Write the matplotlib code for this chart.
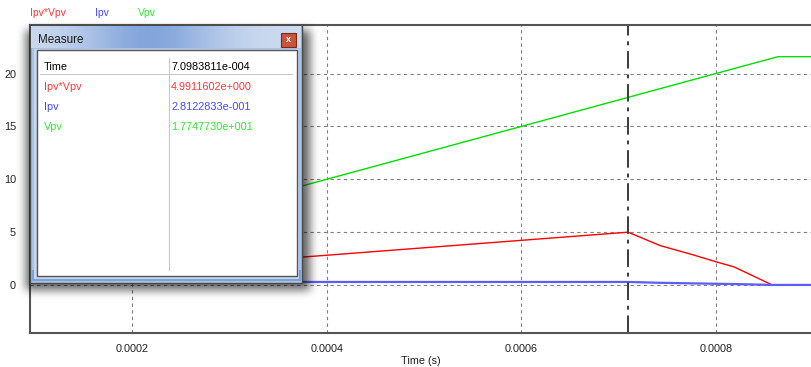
import numpy as np
import matplotlib.pyplot as plt
from matplotlib.patches import Rectangle

plt.rcParams['font.family'] = ['Liberation Sans', 'DejaVu Sans']

# probe samples: time (s), panel current (A), panel voltage (V), power (W)
time_s = [0.00009, 0.0002, 0.0004, 0.0006, 7.0983811e-4, 0.000743, 0.000777,
          0.0008, 0.000819, 0.000858, 0.000864, 0.0009]
ipv = [0.2812, 0.2812, 0.2812, 0.2812, 0.28122833, 0.2, 0.146,
       0.11, 0.084, 0.0, 0.0, 0.0]
vpv = [2.25, 5.0, 10.0, 15.0, 17.74773, 18.58, 19.43,
       20.0, 20.48, 21.45, 21.6, 21.6]
pwr = [0.63, 1.41, 2.81, 4.22, 4.9911602, 3.72, 2.84,
       2.2, 1.70, 0.0, 0.0, 0.0]

# cursor readout
cursor_t = 7.0983811e-4
cursor_p = 4.9911602
cursor_i = 0.28122833
cursor_v = 17.74773

series_names = ['Ipv*Vpv', 'Ipv', 'Vpv']
series_colors = ['#ff0000', '#5c5cff', '#00e000']
text_colors = ['#ff3a3a', '#4848ff', '#35e835']

x_ticks = [0.0002, 0.0004, 0.0006, 0.0008]
x_tick_labels = ['0.0002', '0.0004', '0.0006', '0.0008']
y_ticks = [0, 5, 10, 15, 20]

W, H = 811, 367


def sci3(v):
    # mantissa with 7 decimals and a 3-digit exponent, e.g. 7.0983811e-004
    m, e = f"{v:.7e}".split('e')
    e = int(e)
    return f"{m}e{'-' if e < 0 else '+'}{abs(e):03d}"


fig = plt.figure(figsize=(W / 100, H / 100), dpi=100)
fig.patch.set_facecolor('white')

ax = fig.add_axes([30 / W, 34 / H, 781 / W, 308 / H])
ax.plot(time_s, pwr, color=series_colors[0], lw=1.0)
ax.plot(time_s, ipv, color=series_colors[1], lw=1.6)
ax.plot(time_s, vpv, color=series_colors[2], lw=1.0)
ax.axvline(cursor_t, color='#3a3a3a', lw=1.4, linestyle=(0, (9, 3, 2, 3)))

ax.set_xlim(0.0000947, 0.000898)
ax.set_ylim(-4.55, 24.6)
ax.set_xticks(x_ticks)
ax.set_xticklabels(x_tick_labels)
ax.set_yticks(y_ticks)
ax.tick_params(length=0, labelsize=7.8, colors='#202020')
ax.tick_params(axis='x', pad=8)
ax.tick_params(axis='y', pad=10)
ax.grid(True, color='#808080', lw=0.8, linestyle=(0, (3, 3)))
for side in ['left', 'bottom', 'top']:
    ax.spines[side].set_color('#555555')
    ax.spines[side].set_linewidth(1.5)
ax.spines['right'].set_visible(False)
ax.set_xlabel('Time (s)', fontsize=7.8, color='#202020', labelpad=1)

# pixel-space overlay for the legend and the measure window
ov = fig.add_axes([0, 0, 1, 1], zorder=5)
ov.set_xlim(0, W)
ov.set_ylim(H, 0)
ov.axis('off')
ov.patch.set_visible(False)

for name, col, x in zip(series_names, text_colors, [30, 95, 138]):
    ov.text(x, 13, name, color=col, fontsize=7.5, va='center', ha='left')

# soft drop shadow behind the window
mask = np.zeros((H, W))
mask[30:290, 26:310] = 1.0
k = np.ones(9) / 9
for _ in range(3):
    mask = np.apply_along_axis(lambda r: np.convolve(r, k, mode='same'), 1, mask)
    mask = np.apply_along_axis(lambda c: np.convolve(c, k, mode='same'), 0, mask)
shadow = np.zeros((H, W, 4))
shadow[..., 3] = mask * 0.62
ov.imshow(shadow, extent=(0, W, H, 0), interpolation='bilinear', zorder=1, aspect='auto')

# window frame
ov.add_patch(Rectangle((30, 25), 272, 258, facecolor='#a9c2e6', edgecolor='#4a4a4a', lw=1.0, zorder=2))
xs = np.linspace(31, 301, 200)
bump = np.exp(-((xs - 150) / 70) ** 2)
base = np.array([0.80, 0.86, 0.94])
deep = np.array([0.52, 0.65, 0.86])
grad = (base[None, :] * (1 - bump[:, None]) + deep[None, :] * bump[:, None])[None, :, :]
ov.imshow(grad, extent=(31, 301, 48, 26), aspect='auto', zorder=3, interpolation='bilinear')
ov.add_patch(Rectangle((31.5, 270), 269, 11, facecolor='#7f9fd6', edgecolor='none', zorder=2.5))
ov.add_patch(Rectangle((33.5, 49), 265, 230, facecolor='#c5d6ef', edgecolor='none', zorder=2.6))
ov.text(38, 40, 'Measure', fontsize=8.4, color='#1a1a1a', va='center', ha='left', zorder=4)

# close button
ov.add_patch(Rectangle((281, 33), 15, 14, facecolor='#c8553c', edgecolor='#7a2a1a', lw=0.8, zorder=4))
ov.text(288.5, 40, 'x', fontsize=6.5, color='white', fontweight='bold', va='center', ha='center', zorder=5)

# table panel
ov.add_patch(Rectangle((36.5, 49.5), 260, 226, facecolor='white', edgecolor='#555555', lw=1.0, zorder=4))
ov.plot([40, 292], [74, 74], color='#c8c8c8', lw=0.8, zorder=5)
ov.plot([169, 169], [58, 270], color='#c8c8c8', lw=0.8, zorder=5)

rows = [('Time', sci3(cursor_t), '#000000'),
        (series_names[0], sci3(cursor_p), text_colors[0]),
        (series_names[1], sci3(cursor_i), text_colors[1]),
        (series_names[2], sci3(cursor_v), text_colors[2])]
for (label, val, col), y in zip(rows, [67, 87, 107, 127]):
    ov.text(44, y, label, color=col, fontsize=7.8, va='center', ha='left', zorder=6)
    ov.text(171, y, val, color=col, fontsize=7.8, va='center', ha='left', zorder=6)

fig.savefig('out.png', dpi=100)
